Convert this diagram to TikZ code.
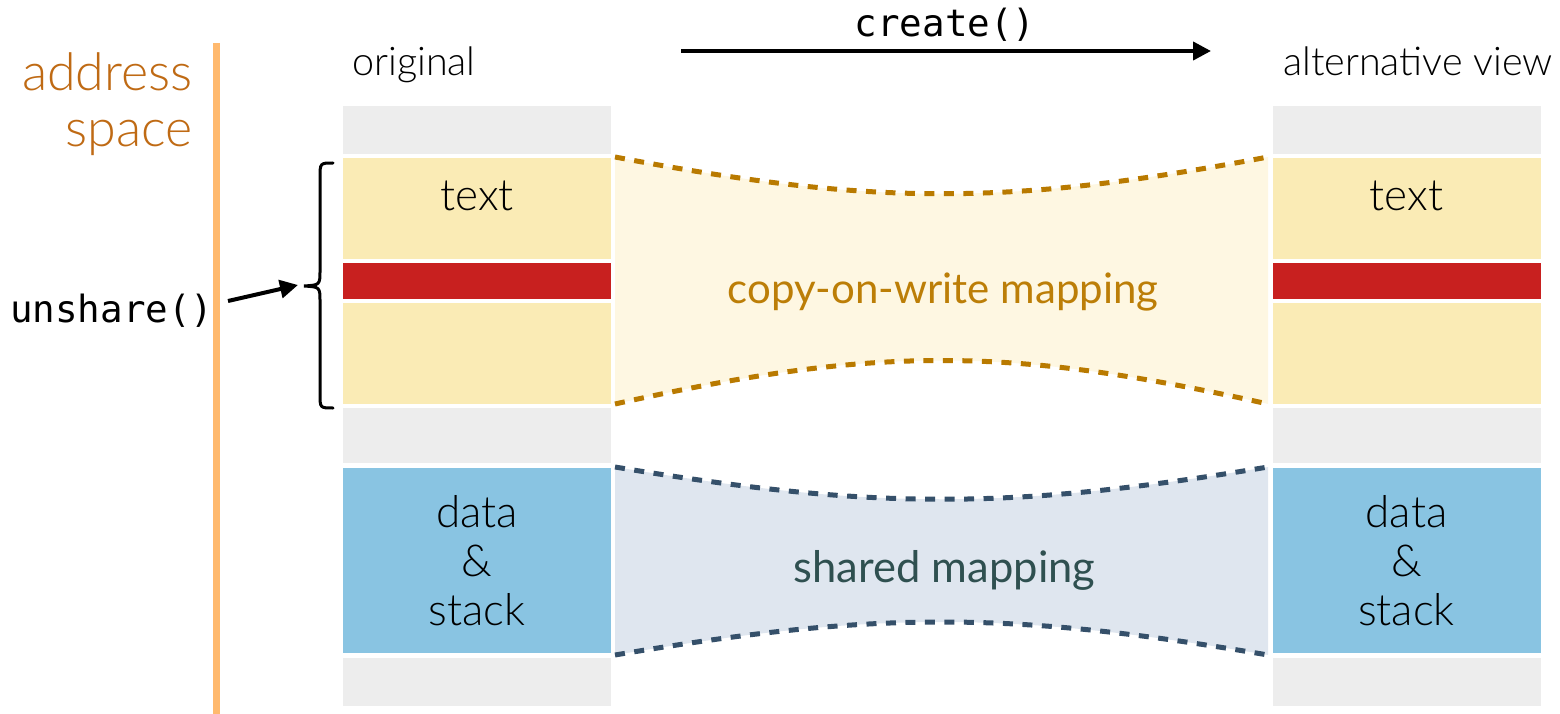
\documentclass[tikz,border=0pt]{standalone}
\usepackage{fontspec}
\setmainfont{Lato}
\newfontfamily\lightfont{Lato Light}
\newfontfamily\codefont{DejaVu Sans Mono}
\usetikzlibrary{arrows.meta}

\definecolor{segGray}{HTML}{EDEDED}
\definecolor{segYellow}{HTML}{FAEBB5}
\definecolor{segRed}{HTML}{C8201F}
\definecolor{segBlue}{HTML}{89C4E2}
\definecolor{cowLine}{HTML}{B97A00}
\definecolor{cowFill}{HTML}{FEF7E2}
\definecolor{cowText}{HTML}{BC7E07}
\definecolor{shLine}{HTML}{35506A}
\definecolor{shFill}{HTML}{DFE6EF}
\definecolor{shText}{HTML}{2F5050}
\definecolor{asText}{HTML}{BF6A14}
\definecolor{asLine}{HTML}{FFB96E}

\begin{document}
\begin{tikzpicture}[x=1pt, y=-1pt,
  seg/.style={rectangle, inner sep=0pt, draw=none, minimum width=268pt},
  graySeg/.style={seg, fill=segGray},
  yellowSeg/.style={seg, fill=segYellow},
  redSeg/.style={seg, fill=segRed},
  blueSeg/.style={seg, fill=segBlue, align=center,
    font=\lightfont\fontsize{44}{49}\selectfont},
  boxLabel/.style={anchor=base, inner sep=0pt, font=\lightfont\fontsize{44}{49}\selectfont},
  colLabel/.style={anchor=base west, inner sep=0pt, font=\lightfont\fontsize{39.5}{48}\selectfont},
  codeLabel/.style={inner sep=0pt, font=\codefont\fontsize{37.5}{42}\selectfont},
  mapLabel/.style={anchor=base, inner sep=0pt},
  cowDash/.style={draw=cowLine, line width=5pt, dash pattern=on 10pt off 9.5pt},
  shDash/.style={draw=shLine, line width=5pt, dash pattern=on 10pt off 9.5pt},
  callArrow/.style={draw=black, line width=4pt, -{Triangle[length=18pt, width=18pt]}}
]
\useasboundingbox (0,0) rectangle (1560,714);

% address-space axis
\draw[asLine, line width=7pt] (216,43) -- (216,714);
\node[anchor=base east, inner sep=0pt, align=right, text=asText,
  font=\lightfont\fontsize{52}{56}\selectfont] (aslabel) at (193,147)
  {address\\space};

% copy-on-write mapping band
\fill[cowFill] (615,157) .. controls (875,206) and (1008,206) .. (1268,157)
  -- (1268,404) .. controls (1008,346) and (875,346) .. (615,404) -- cycle;
\path[cowDash] (615,157) .. controls (875,206) and (1008,206) .. (1268,157);
\path[cowDash] (615,404) .. controls (875,346) and (1008,346) .. (1268,404);
\node[mapLabel, text=cowText, font=\fontsize{42}{48}\selectfont] (cowlabel)
  at (943,303) {copy-on-write mapping};

% shared mapping band
\fill[shFill] (615,467) .. controls (875,510) and (1008,510) .. (1268,467)
  -- (1268,655) .. controls (1008,611) and (875,611) .. (615,655) -- cycle;
\path[shDash] (615,467) .. controls (875,510) and (1008,510) .. (1268,467);
\path[shDash] (615,655) .. controls (875,611) and (1008,611) .. (1268,655);
\node[mapLabel, text=shText, font=\fontsize{43.5}{48}\selectfont] (shlabel)
  at (944.5,582) {shared mapping};

% original address space
\node[graySeg,   minimum height=48pt]  (lg1)   at (477,130) {};
\node[yellowSeg, minimum height=101pt] (ltext) at (477,208.5) {};
\node[redSeg,    minimum height=36pt]  (lred)  at (477,281) {};
\node[yellowSeg, minimum height=101pt] (lrest) at (477,353.5) {};
\node[graySeg,   minimum height=55pt]  (lg2)   at (477,435.5) {};
\node[blueSeg,   minimum height=185pt] (ldata) at (477,560.5) {data\\\&\\stack};
\node[graySeg,   minimum height=48pt]  (lg3)   at (477,682) {};
\node[boxLabel] (ltextlab) at (477,211) {text};

% alternative view
\node[graySeg,   minimum height=48pt]  (rg1)   at (1406.5,130) {};
\node[yellowSeg, minimum height=101pt] (rtext) at (1406.5,208.5) {};
\node[redSeg,    minimum height=36pt]  (rred)  at (1406.5,281) {};
\node[yellowSeg, minimum height=101pt] (rrest) at (1406.5,353.5) {};
\node[graySeg,   minimum height=55pt]  (rg2)   at (1406.5,435.5) {};
\node[blueSeg,   minimum height=185pt] (rdata) at (1406.5,560.5) {data\\\&\\stack};
\node[graySeg,   minimum height=48pt]  (rg3)   at (1406.5,682) {};
\node[boxLabel] (rtextlab) at (1406.5,211) {text};

% column headings
\node[colLabel] (orig) at (352,76) {original};
\node[colLabel] (alt) at (1283,76) {alternative view};

% create() call
\coordinate (cstart) at (681,51);
\coordinate (cend) at (1211,51);
\draw[callArrow] (cstart) -- (cend);
\node[codeLabel, anchor=base] (create) at (945,37) {create()};

% unshare() call and the brace over the text segment
\node[codeLabel, anchor=base west] (unshare) at (10,322) {unshare()};
\coordinate (bracetip) at (304,286);
\draw[line width=3pt, line cap=round]
  (333,163) .. controls (320,163) .. (320,178) -- (320,270)
  .. controls (320,285) .. (bracetip)
  .. controls (320,287) .. (320,302) -- (320,394)
  .. controls (320,408) .. (333,408);
\coordinate (ustart) at (228,301);
\draw[callArrow] (ustart) -- (298,285);
\end{tikzpicture}
\end{document}
